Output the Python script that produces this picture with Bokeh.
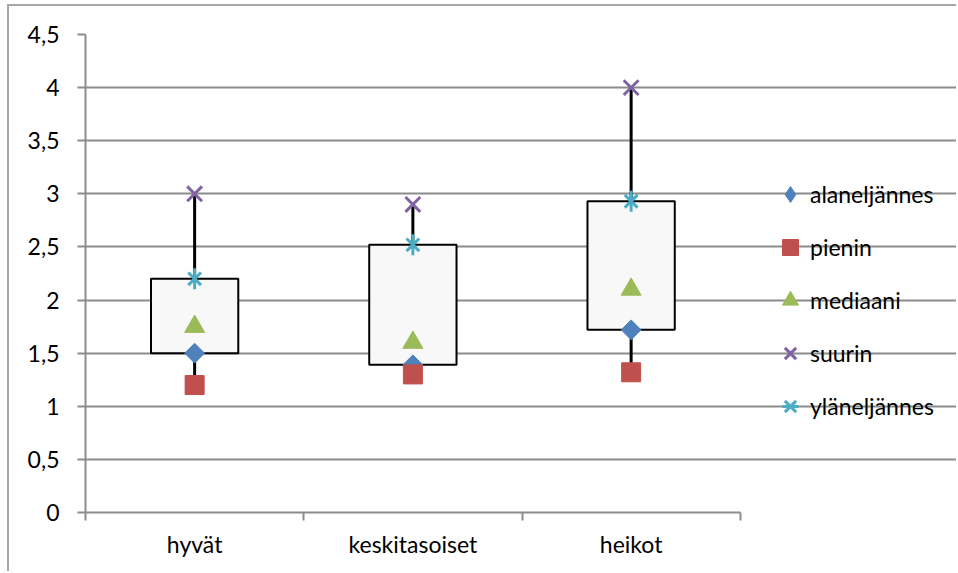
import math

from bokeh.embed import file_html
from bokeh.models import (ColumnDataSource, CustomJSTickFormatter, FixedTicker,
                          Legend, LegendItem, Range1d)
from bokeh.plotting import figure
from bokeh.resources import INLINE

# Quartile summary per group
categories = ["hyvät", "keskitasoiset", "heikot"]
alaneljannes = [1.5, 1.39, 1.72]   # lower quartile
pienin = [1.2, 1.3, 1.32]          # minimum
mediaani = [1.75, 1.6, 2.1]        # median
suurin = [3.0, 2.9, 4.0]           # maximum
ylaneljannes = [2.2, 2.52, 2.93]   # upper quartile
y_ticks = [0, 0.5, 1, 1.5, 2, 2.5, 3, 3.5, 4, 4.5]

FONT = "Lato"
FONT_SIZE = "23px"
GRID = "#8c8c8c"

n = len(categories)
xs = [i + 0.5 for i in range(n)]
bounds = list(range(n + 1))

source = ColumnDataSource(dict(
    x=xs, cat=categories, ala=alaneljannes, pie=pienin,
    med=mediaani, suu=suurin, yla=ylaneljannes,
))

# The frame runs to the right edge; the category area uses the first n units
# and the remaining space holds the legend.
p = figure(
    width=949, height=567,
    x_range=Range1d(0, n * 4 / 3), y_range=Range1d(y_ticks[0], y_ticks[-1]),
    output_backend="svg", toolbar_location=None,
    min_border_left=76, min_border_top=28, min_border_right=0, min_border_bottom=61,
    margin=(4, 0, 0, 7),
    styles={"border-top": "2px solid #a6a6a6", "border-left": "2px solid #a6a6a6"},
)
p.outline_line_color = None
p.background_fill_color = "white"
p.border_fill_color = "white"

# Axes
p.xaxis.bounds = (0, n)
p.xaxis.ticker = FixedTicker(ticks=xs, minor_ticks=bounds)
p.xaxis.formatter = CustomJSTickFormatter(args=dict(labels=categories),
                                          code="return labels[Math.floor(tick)]")
p.xaxis.major_tick_line_color = None
p.xaxis.minor_tick_out = 8
p.xaxis.minor_tick_in = 0
p.xaxis.minor_tick_line_color = GRID
p.xaxis.minor_tick_line_width = 2
p.xaxis.major_label_standoff = 9

p.yaxis.ticker = FixedTicker(ticks=y_ticks)
p.yaxis.formatter = CustomJSTickFormatter(code="return String(tick).replace('.', ',')")
p.yaxis.major_tick_out = 8
p.yaxis.major_tick_in = 0
p.yaxis.minor_tick_line_color = None
p.yaxis.major_tick_line_color = GRID
p.yaxis.major_tick_line_width = 2
p.yaxis.major_label_standoff = 18

for ax in (p.xaxis, p.yaxis):
    ax.axis_line_color = GRID
    ax.axis_line_width = 2
    ax.major_label_text_font = FONT
    ax.major_label_text_font_size = FONT_SIZE
    ax.major_label_text_color = "black"

p.xgrid.grid_line_color = None
p.ygrid.ticker = FixedTicker(ticks=y_ticks)
p.ygrid.bounds = (0, n)
p.ygrid.grid_line_color = GRID
p.ygrid.grid_line_width = 2

# High-low line, then the quartile box on top of it
p.segment(x0="x", y0="pie", x1="x", y1="suu", source=source,
          line_color="black", line_width=3)
p.vbar(x="x", bottom="ala", top="yla", width=0.4, source=source,
       fill_color="#f8f8f8", line_color="black", line_width=2)

BLUE, RED, GREEN, PURPLE, CYAN = "#4f81bd", "#c0504d", "#9bbb59", "#8064a2", "#4bacc6"

r_ala = p.scatter(x="x", y="ala", source=source, marker="square", angle=math.pi / 4,
                  size=14, fill_color=BLUE, line_color=BLUE)
r_pie = p.scatter(x="x", y="pie", source=source, marker="square",
                  size=19, fill_color=RED, line_color=RED)
r_med = p.scatter(x="x", y="med", source=source, marker="triangle",
                  size=20, fill_color=GREEN, line_color=GREEN)
r_suu = p.scatter(x="x", y="suu", source=source, marker="x",
                  size=21, line_color=PURPLE, line_width=3)
r_yla1 = p.scatter(x="x", y="yla", source=source, marker="x",
                   size=18, line_color=CYAN, line_width=3)
r_yla2 = p.scatter(x="x", y="yla", source=source, marker="dash", angle=math.pi / 2,
                   size=21, line_color=CYAN, line_width=3)
# legend key for the lower quartile (legend keys are drawn unrotated)
r_ala_key = p.scatter(x="x", y="ala", source=source, marker="diamond",
                      size=14, fill_color=BLUE, line_color=BLUE, visible=False)

legend = Legend(
    items=[
        LegendItem(label="alaneljännes", renderers=[r_ala_key], index=0),
        LegendItem(label="pienin", renderers=[r_pie], index=0),
        LegendItem(label="mediaani", renderers=[r_med], index=0),
        LegendItem(label="suurin", renderers=[r_suu], index=0),
        LegendItem(label="yläneljännes", renderers=[r_yla1, r_yla2], index=0),
    ],
    location=(685, 84),
    glyph_width=40, glyph_height=44, label_height=20,
    label_standoff=0, spacing=9, padding=0, margin=0,
    border_line_color=None, background_fill_alpha=0,
    label_text_font=FONT, label_text_font_size=FONT_SIZE, label_text_color="black",
)
p.add_layout(legend)

open("out.html", "w").write(file_html(p, INLINE))
